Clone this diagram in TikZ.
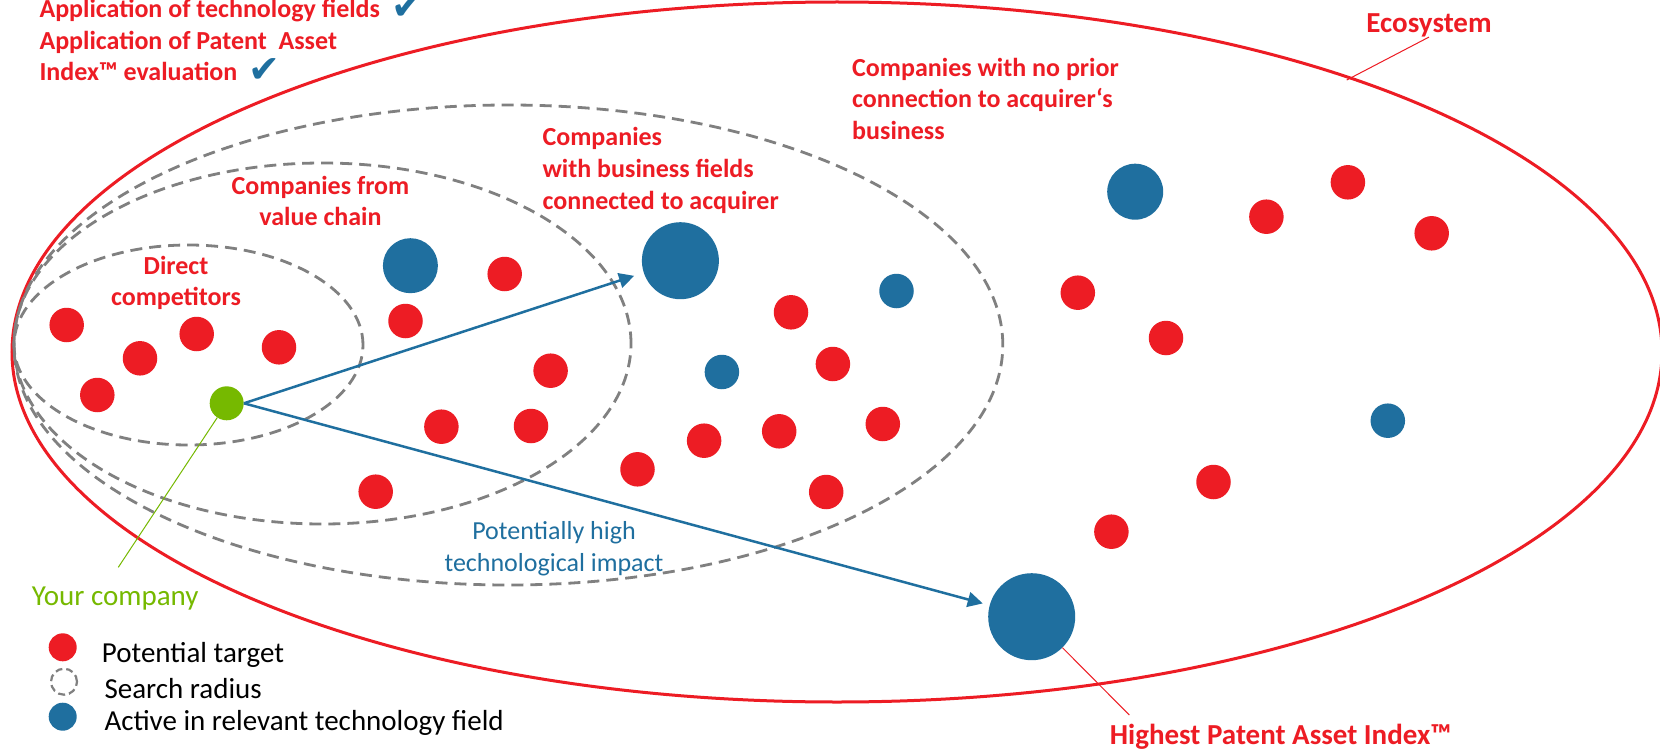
\documentclass[tikz,border=0pt]{standalone}
\usepackage{fontspec}
\setmainfont{Carlito}
\newfontfamily\checkfont{DejaVu Sans}
\usetikzlibrary{arrows.meta}
\definecolor{ared}{HTML}{ED1C24}
\definecolor{ablue}{HTML}{1F6F9F}
\definecolor{agreen}{HTML}{76B900}
\definecolor{agray}{HTML}{808080}
\newcommand{\lblsize}{\fontsize{26}{31.7}\selectfont}
\newcommand{\bigsize}{\fontsize{29}{35}\selectfont}
\newcommand{\cstack}[1]{\begin{tabular}[t]{@{}c@{}}#1\end{tabular}}
\newcommand{\lstack}[1]{\begin{tabular}[t]{@{}l@{}}#1\end{tabular}}
\newcommand{\chk}{\hspace{11pt}\smash{\raisebox{-2pt}{\checkfont\fontsize{38}{38}\selectfont\textcolor{ablue}{✔}}}}
\begin{document}
\begin{tikzpicture}[x=1pt,y=-1pt,
  dot/.style={circle,inner sep=0pt,draw=none,minimum size=#1},
  rdot/.style={dot=34.5pt,fill=ared},
  bdot/.style={dot=#1,fill=ablue},
  bdot/.default=34.5pt,
  gdot/.style={dot=34pt,fill=agreen},
  eco/.style={draw=ared,line width=3pt},
  radius/.style={draw=agray,line width=2.8pt,dash pattern=on 12pt off 7pt},
  arr/.style={draw=ablue,line width=2.5pt,-{Triangle[length=15pt,width=15pt]}},
  lead/.style={draw=ared,line width=1pt},
  lbl/.style={inner sep=0pt,font=\bfseries\lblsize,text=ared},
  biglbl/.style={inner sep=0pt,font=\bfseries\bigsize,text=ared},
  legtext/.style={inner sep=0pt,font=\bigsize,text=black,anchor=base west}
]
\fill[white] (0,0) rectangle (1660,749);
\useasboundingbox (0,0) rectangle (1660,749);

% ellipses
\draw[eco] (837,352) ellipse [x radius=825pt, y radius=350pt];
\draw[radius] (188.5,345) ellipse [x radius=174.5pt, y radius=100pt];
\draw[radius] (322.5,343.5) ellipse [x radius=308.5pt, y radius=180.5pt];
\draw[radius] (508.4,345) ellipse [x radius=494.4pt, y radius=240pt];

% red dots
\node[rdot] (r1) at (66.7,325) {};
\node[rdot] (r2) at (140,358.3) {};
\node[rdot] (r3) at (196.7,334) {};
\node[rdot] (r4) at (279,347.3) {};
\node[rdot] (r5) at (97.3,395) {};
\node[rdot] (r6) at (405.5,321) {};
\node[rdot] (r7) at (504.7,274) {};
\node[rdot] (r8) at (550.6,370.7) {};
\node[rdot] (r9) at (441.4,426.7) {};
\node[rdot] (r10) at (531,426) {};
\node[rdot] (r11) at (375.7,491.7) {};
\node[rdot] (r12) at (637.5,469.3) {};
\node[rdot] (r13) at (704.1,440.7) {};
\node[rdot] (r14) at (779.2,431.3) {};
\node[rdot] (r15) at (791,312.3) {};
\node[rdot] (r16) at (832.9,364) {};
\node[rdot] (r17) at (882.8,424) {};
\node[rdot] (r18) at (826.2,492) {};
\node[rdot] (r19) at (1077.8,292.7) {};
\node[rdot] (r20) at (1166,338) {};
\node[rdot] (r21) at (1266.4,216.7) {};
\node[rdot] (r22) at (1347.9,182.3) {};
\node[rdot] (r23) at (1431.7,233.3) {};
\node[rdot] (r24) at (1213.5,482) {};
\node[rdot] (r25) at (1111.4,531.7) {};

% blue dots
\node[bdot=55pt] (b1) at (410.4,265.7) {};
\node[bdot=77pt] (b2) at (680.4,260.7) {};
\node[bdot] (b3) at (896.5,291) {};
\node[bdot] (b4) at (721.9,372) {};
\node[bdot=56pt] (b5) at (1135.2,191.7) {};
\node[bdot] (b6) at (1387.8,420.7) {};
\node[bdot=87pt] (b7) at (1031.7,616.7) {};

% your company
\node[gdot] (g) at (226.7,403.3) {};

% arrows
\draw[arr,shorten >=10pt] (g.east) -- (b2);
\draw[arr,shorten >=7pt] (g.east) -- (b7);

% labels
\node[lbl,anchor=base west] (steps) at (39.3,17.5)
  {\lstack{Application of technology fields\chk\\Application of Patent\ \ Asset\\Index™ evaluation\chk}};
\node[lbl,anchor=base] (dc) at (176,274) {\cstack{Direct\\competitors}};
\node[lbl,anchor=base] (vc) at (320.5,194) {\cstack{Companies from\\value chain}};
\node[lbl,anchor=base west] (bf) at (542.4,146) {\lstack{Companies\\with business fields\\connected to acquirer}};
\node[lbl,anchor=base west] (np) at (852,76.3) {\lstack{Companies with no prior\\connection to acquirer‘s\\business}};
\node[biglbl,anchor=base] (ecol) at (1429,32.3) {Ecosystem};
\node[biglbl,anchor=base] (pai) at (1280.5,744) {Highest Patent Asset Index™};
\node[inner sep=0pt,font=\lblsize,text=ablue,anchor=base] (pot) at (554,539.3)
  {\cstack{Potentially high\\technological impact}};
\node[inner sep=0pt,font=\bigsize,text=agreen,anchor=base west] (yc) at (31.7,605) {Your company};

% leader lines
\coordinate (ecoB) at (1346.7,80);
\coordinate (paiA) at (1129.3,715);
\coordinate (ycA) at (118.3,567.3);
\draw[lead] (ecol.south) -- (ecoB);
\draw[lead] (b7) -- (paiA);
\draw[draw=agreen,line width=1pt] (g) -- (ycA);

% legend
\node[dot=28pt,fill=ared] (lr) at (62.7,647.3) {};
\node[circle,inner sep=0pt,minimum size=26pt,draw=agray,line width=2.2pt,dash pattern=on 7pt off 4pt] (ls) at (64,681.7) {};
\node[dot=28pt,fill=ablue] (lb) at (62.7,716.7) {};
\node[legtext] (lrt) at (101.7,662.7) {Potential target};
\node[legtext] (lst) at (104.3,698) {Search radius};
\node[legtext] (lbt) at (104.3,730.7) {Active in relevant technology field};
\end{tikzpicture}
\end{document}
